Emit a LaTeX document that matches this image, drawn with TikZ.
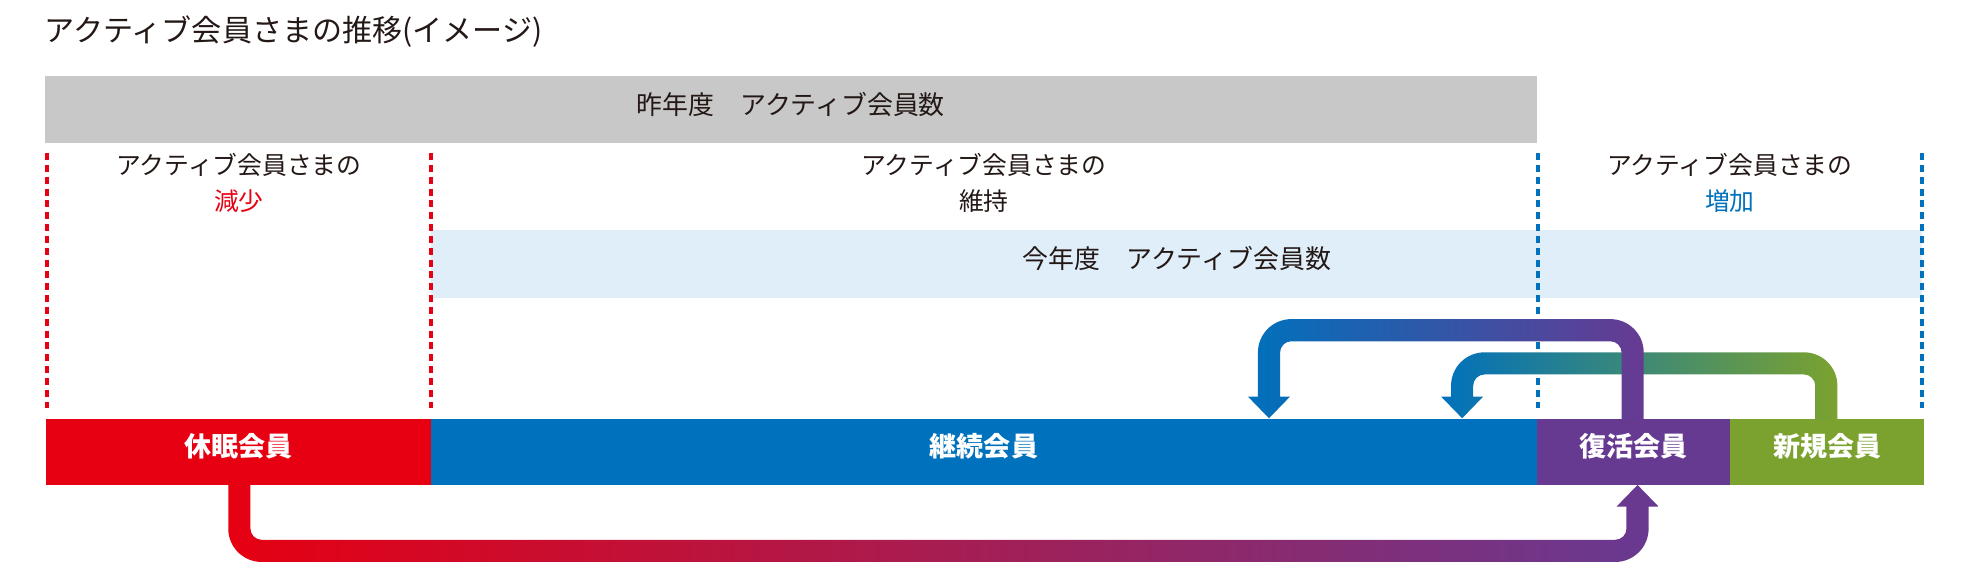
\documentclass[tikz,border=0pt]{standalone}
\usepackage{fontspec}
\setmainfont{Noto Sans CJK JP}
\definecolor{cred}{HTML}{E60012}
\definecolor{cblue}{HTML}{0071BC}
\definecolor{cpurple}{HTML}{673A92}
\definecolor{cgreen}{HTML}{7BA22F}
\definecolor{cgrey}{HTML}{C8C8C8}
\definecolor{clight}{HTML}{E0EEF9}
\definecolor{ctext}{HTML}{231815}
\tikzset{
  txt/.style={inner sep=0pt, text height=0.88em, text depth=0.12em, text=ctext},
  lbl/.style={txt, font=\fontsize{19.7}{22}\selectfont},
  band/.style={anchor=north west, inner sep=0pt, minimum height=53pt, text height=0.88em, text depth=0.12em, text=ctext, font=\fontsize{20.6}{24}\selectfont},
  bar/.style={anchor=north west, inner sep=0pt, minimum height=53pt, text height=0.88em, text depth=0.12em, text=white, font=\bfseries\fontsize{21.5}{24}\selectfont},
  rdash/.style={draw=cred, line width=3.2pt, dash pattern=on 5.6pt off 3.8pt},
  bdash/.style={draw=cblue, line width=3.2pt, dash pattern=on 5.6pt off 3.8pt}
}
\begin{document}
\begin{tikzpicture}[x=1pt,y=-1pt]
\useasboundingbox (0,0) rectangle (1568,463.3);
% title
\node[txt, anchor=west, font=\fontsize{23.9}{26}\selectfont] (title) at (35.5,29.5) {アクティブ会員さまの推移(イメージ)};
% bands
\node[band, fill=cgrey, minimum width=1185.5pt] (lastyear) at (35.5,60.4) {昨年度　アクティブ会員数};
\node[band, fill=clight, minimum width=1184.9pt, minimum height=53.8pt] (thisyear) at (342.6,182.8) {今年度　アクティブ会員数};
% dashed separators
\coordinate (d1a) at (37.3,121.7); \coordinate (d1b) at (37.3,324);
\coordinate (d2a) at (342.6,121.7); \coordinate (d2b) at (342.6,324);
\coordinate (d3a) at (1222.2,121.7); \coordinate (d3b) at (1222.2,324);
\coordinate (d4a) at (1527.5,121.7); \coordinate (d4b) at (1527.5,324);
\draw[rdash] (d1a) -- (d1b);
\draw[rdash] (d2a) -- (d2b);
\draw[bdash] (d3a) -- (d3b);
\draw[bdash] (d4a) -- (d4b);
% column labels
\node[lbl] (c1a) at (189.9,135) {アクティブ会員さまの};
\node[lbl, text=cred] (c1b) at (189.9,163.5) {減少};
\node[lbl] (c2a) at (782,135) {アクティブ会員さまの};
\node[lbl] (c2b) at (782,163.5) {維持};
\node[lbl] (c3a) at (1374.8,135) {アクティブ会員さまの};
\node[lbl, text=cblue] (c3b) at (1374.8,163.5) {増加};
% bars
\node[bar, fill=cred, minimum width=306.6pt] (kyumin) at (36,332.4) {休眠会員};
\node[bar, fill=cblue, minimum width=878.4pt] (keizoku) at (342.6,332.4) {継続会員};
\node[bar, fill=cpurple, minimum width=154pt] (fukkatsu) at (1221,332.4) {復活会員};
\node[bar, fill=cgreen, minimum width=154pt] (shinki) at (1375,332.4) {新規会員};
% arrow geometry
\def\ah{8.8}\def\aro{26.5}\def\ari{9}\def\ahw{16.7}\def\ahl{17.2}
% arrow: new -> continuing
\def\xL{1162}\def\xR{1451.4}\def\yT{288.8}
\shade[left color=cblue, right color=cgreen]
 ({\xR+\ah},334) -- ({\xR+\ah},{\yT-\ah+\aro}) arc[start angle=0,end angle=-90,radius=\aro]
 -- ({\xL-\ah+\aro},{\yT-\ah}) arc[start angle=-90,end angle=-180,radius=\aro]
 -- ({\xL-\ah},{332.4-\ahl}) -- ({\xL-\ahw},{332.4-\ahl}) -- (\xL,332.4) -- ({\xL+\ahw},{332.4-\ahl}) -- ({\xL+\ah},{332.4-\ahl})
 -- ({\xL+\ah},{\yT+\ah+\ari}) arc[start angle=180,end angle=270,radius=\ari]
 -- ({\xR-\ah-\ari},{\yT+\ah}) arc[start angle=270,end angle=360,radius=\ari]
 -- ({\xR-\ah},334) -- cycle;
% arrow: revived -> continuing
\def\xL{1008.5}\def\xR{1297.5}\def\yT{262.4}
\shade[left color=cblue, right color=cpurple]
 ({\xR+\ah},334) -- ({\xR+\ah},{\yT-\ah+\aro}) arc[start angle=0,end angle=-90,radius=\aro]
 -- ({\xL-\ah+\aro},{\yT-\ah}) arc[start angle=-90,end angle=-180,radius=\aro]
 -- ({\xL-\ah},{332.4-\ahl}) -- ({\xL-\ahw},{332.4-\ahl}) -- (\xL,332.4) -- ({\xL+\ahw},{332.4-\ahl}) -- ({\xL+\ah},{332.4-\ahl})
 -- ({\xL+\ah},{\yT+\ah+\ari}) arc[start angle=180,end angle=270,radius=\ari]
 -- ({\xR-\ah-\ari},{\yT+\ah}) arc[start angle=270,end angle=360,radius=\ari]
 -- ({\xR-\ah},334) -- cycle;
% arrow: dormant -> revived
\def\xL{190.2}\def\xR{1301.4}\def\yB{437.8}
\shade[left color=cred, right color=cpurple]
 ({\xL-\ah},384) -- ({\xL-\ah},{\yB+\ah-\aro}) arc[start angle=180,end angle=90,radius=\aro]
 -- ({\xR+\ah-\aro},{\yB+\ah}) arc[start angle=90,end angle=0,radius=\aro]
 -- ({\xR+\ah},{385.4+\ahl}) -- ({\xR+\ahw},{385.4+\ahl}) -- (\xR,385.4) -- ({\xR-\ahw},{385.4+\ahl}) -- ({\xR-\ah},{385.4+\ahl})
 -- ({\xR-\ah},{\yB-\ah-\ari}) arc[start angle=0,end angle=90,radius=\ari]
 -- ({\xL+\ah+\ari},{\yB-\ah}) arc[start angle=90,end angle=180,radius=\ari]
 -- ({\xL+\ah},384) -- cycle;
\end{tikzpicture}
\end{document}
